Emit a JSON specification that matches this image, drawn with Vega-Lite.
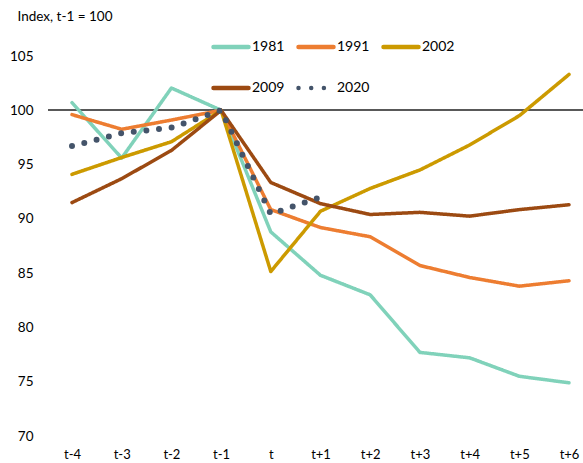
{
  "$schema": "https://vega.github.io/schema/vega-lite/v6.json",
  "width": 535,
  "height": 380,
  "autosize": "none",
  "padding": {"left": 48, "top": 56, "right": 0, "bottom": 27},
  "background": "white",
  "config": {"view": {"stroke": null}, "font": "Lato"},
  "data": {
    "values": [
      {"series": "1981", "period": "t-4", "value": 100.7},
      {"series": "1981", "period": "t-3", "value": 95.6},
      {"series": "1981", "period": "t-2", "value": 102.05},
      {"series": "1981", "period": "t-1", "value": 100},
      {"series": "1981", "period": "t", "value": 88.8},
      {"series": "1981", "period": "t+1", "value": 84.8},
      {"series": "1981", "period": "t+2", "value": 83.0},
      {"series": "1981", "period": "t+3", "value": 77.7},
      {"series": "1981", "period": "t+4", "value": 77.2},
      {"series": "1981", "period": "t+5", "value": 75.5},
      {"series": "1981", "period": "t+6", "value": 74.9},
      {"series": "1991", "period": "t-4", "value": 99.6},
      {"series": "1991", "period": "t-3", "value": 98.25},
      {"series": "1991", "period": "t-2", "value": 99.1},
      {"series": "1991", "period": "t-1", "value": 100},
      {"series": "1991", "period": "t", "value": 90.85},
      {"series": "1991", "period": "t+1", "value": 89.2},
      {"series": "1991", "period": "t+2", "value": 88.35},
      {"series": "1991", "period": "t+3", "value": 85.7},
      {"series": "1991", "period": "t+4", "value": 84.6},
      {"series": "1991", "period": "t+5", "value": 83.8},
      {"series": "1991", "period": "t+6", "value": 84.3},
      {"series": "2002", "period": "t-4", "value": 94.1},
      {"series": "2002", "period": "t-3", "value": 95.65},
      {"series": "2002", "period": "t-2", "value": 97.1},
      {"series": "2002", "period": "t-1", "value": 100},
      {"series": "2002", "period": "t", "value": 85.15},
      {"series": "2002", "period": "t+1", "value": 90.7},
      {"series": "2002", "period": "t+2", "value": 92.8},
      {"series": "2002", "period": "t+3", "value": 94.5},
      {"series": "2002", "period": "t+4", "value": 96.8},
      {"series": "2002", "period": "t+5", "value": 99.5},
      {"series": "2002", "period": "t+6", "value": 103.3},
      {"series": "2009", "period": "t-4", "value": 91.5},
      {"series": "2009", "period": "t-3", "value": 93.7},
      {"series": "2009", "period": "t-2", "value": 96.3},
      {"series": "2009", "period": "t-1", "value": 100},
      {"series": "2009", "period": "t", "value": 93.35},
      {"series": "2009", "period": "t+1", "value": 91.4},
      {"series": "2009", "period": "t+2", "value": 90.4},
      {"series": "2009", "period": "t+3", "value": 90.6},
      {"series": "2009", "period": "t+4", "value": 90.25},
      {"series": "2009", "period": "t+5", "value": 90.85},
      {"series": "2009", "period": "t+6", "value": 91.3},
      {"series": "2020", "period": "t-4", "value": 96.7},
      {"series": "2020", "period": "t-3", "value": 97.9},
      {"series": "2020", "period": "t-2", "value": 98.4},
      {"series": "2020", "period": "t-1", "value": 100},
      {"series": "2020", "period": "t", "value": 90.45},
      {"series": "2020", "period": "t+1", "value": 92.0}
    ]
  },
  "layer": [
    {
      "mark": {"type": "rule", "color": "#595959", "strokeWidth": 1.2},
      "encoding": {"y": {"datum": 100, "type": "quantitative"}}
    },
    {
      "mark": {"type": "line", "strokeCap": "round", "strokeJoin": "round"},
      "encoding": {
        "x": {
          "field": "period",
          "type": "ordinal",
          "sort": ["t-4", "t-3", "t-2", "t-1", "t", "t+1", "t+2", "t+3", "t+4", "t+5", "t+6"],
          "scale": {"type": "point", "range": [24, 521], "padding": 0},
          "axis": {
            "title": null, "domain": false, "ticks": false, "tickSize": 0, "grid": false,
            "labelAngle": 0, "labelFont": "Lato", "labelFontSize": 13, "labelColor": "black",
            "labelPadding": 12
          }
        },
        "y": {
          "field": "value",
          "type": "quantitative",
          "scale": {"domain": [70, 105], "nice": false, "zero": false},
          "axis": {
            "title": "Index, t-1 = 100", "titleAngle": 0, "titleAlign": "left",
            "titleBaseline": "middle", "titleX": -31, "titleY": -40,
            "titleFont": "Lato", "titleFontSize": 13.5, "titleFontWeight": "normal", "titleColor": "black",
            "values": [70, 75, 80, 85, 90, 95, 100, 105],
            "domain": false, "ticks": false, "tickSize": 0, "grid": false,
            "labelPadding": 15, "labelFont": "Lato", "labelFontSize": 13.5, "labelColor": "black"
          }
        },
        "color": {
          "field": "series",
          "type": "nominal",
          "scale": {
            "domain": ["1981", "1991", "2002", "2009", "2020"],
            "range": ["#80D2BA", "#ED7D31", "#CC9A00", "#9C4A12", "#44546A"]
          },
          "legend": {
            "orient": "none", "legendX": 163, "legendY": -29, "direction": "horizontal",
            "columns": 3, "title": null, "symbolType": "stroke", "symbolSize": 1225,
            "symbolStrokeWidth": 4.5, "labelFont": "Lato", "labelFontSize": 14, "labelColor": "black",
            "labelOffset": 1, "columnPadding": 4, "rowPadding": 12, "padding": 0, "gridAlign": "all",
            "encode": {"symbols": {"update": {"strokeCap": {"value": "round"}}}}
          }
        },
        "strokeDash": {
          "field": "series",
          "type": "nominal",
          "scale": {
            "domain": ["1981", "1991", "2002", "2009", "2020"],
            "range": [[1, 0], [1, 0], [1, 0], [1, 0], [0, 12.7]]
          },
          "legend": {
            "orient": "none", "legendX": 163, "legendY": -29, "direction": "horizontal",
            "columns": 3, "title": null, "symbolType": "stroke", "symbolSize": 1225,
            "symbolStrokeWidth": 4.5, "labelFont": "Lato", "labelFontSize": 14, "labelColor": "black",
            "labelOffset": 1, "columnPadding": 4, "rowPadding": 12, "padding": 0, "gridAlign": "all",
            "encode": {"symbols": {"update": {"strokeCap": {"value": "round"}}}}
          }
        },
        "strokeWidth": {
          "condition": {"test": "datum.series === '2020'", "value": 6},
          "value": 3.5
        }
      }
    }
  ]
}
